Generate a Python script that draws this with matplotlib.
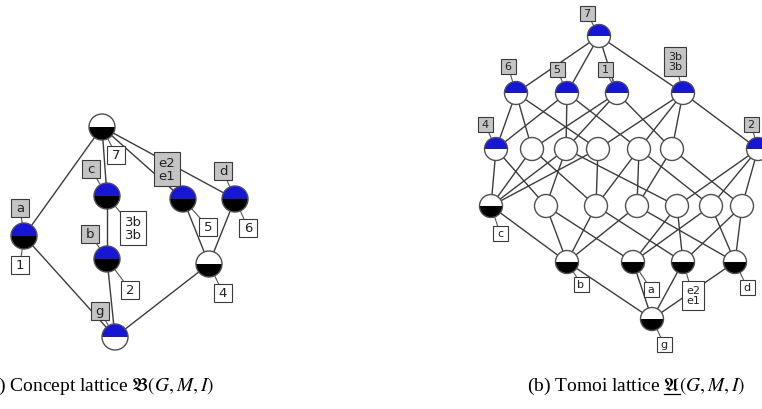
import matplotlib.pyplot as plt
from matplotlib.patches import Wedge, Circle, Rectangle

plt.rcParams['mathtext.fontset'] = 'stix'

BLUE = '#1616d4'
GREY = '#c4c4c4'

# ---- left: concept lattice ----
l_names = ['top', 'a', 'c', 'b', 'g', 'e', 'd', '4']
l_x = [102, 24, 107, 107, 115, 183, 235, 209]
l_y = [128, 237, 197, 260, 338, 200, 200, 265]
l_attr = [False, True, True, True, True, True, True, False]
l_obj = [True, True, True, True, False, True, True, True]
l_edges = [('top', 'a'), ('top', 'c'), ('top', 'e'), ('top', 'd'), ('a', 'g'),
           ('c', 'b'), ('b', 'g'), ('e', '4'), ('d', '4'), ('4', 'g')]
l_attr_lab = {'a': 'a', 'c': 'c', 'b': 'b', 'g': 'g', 'e': 'e2\ne1', 'd': 'd'}
l_obj_lab = {'top': '7', 'a': '1', 'c': '3b\n3b', 'b': '2', 'e': '5', 'd': '6', '4': '4'}
l_attr_off = {'a': (-4, -28), 'c': (-16, -27), 'b': (-17, -25), 'g': (-15, -26),
              'e': (-16, -30), 'd': (-12, -28)}
l_obj_off = {'top': (14, 28), 'a': (-4, 29), 'c': (26, 32), 'b': (23, 31),
             'e': (25, 28), 'd': (13, 29), '4': (14, 29)}

# ---- right: Tomoi lattice ----
r_names = ['7', '6', '5', '1', '3b',
           'L4', 'P1', 'P2', 'P3', 'P4', 'P5', 'L2',
           'c', 'Q1', 'Q2', 'Q3', 'Q4', 'Q5', 'Q6',
           'b', 'a', 'e', 'd', 'g']
r_x = [599, 516, 567, 617, 683,
       496, 532, 566, 598, 639, 672, 758,
       491, 546, 596, 637, 677, 711, 742,
       567, 633, 683, 735, 652]
r_y = [37, 94, 94, 94, 94,
       150, 150, 150, 150, 150, 150, 150,
       207, 207, 207, 207, 207, 207, 207,
       263, 263, 263, 263, 320]
r_attr = ['7', '6', '5', '1', '3b', 'L4', 'L2']
r_obj = ['c', 'b', 'a', 'e', 'd', 'g']
r_edges = [('7', '6'), ('7', '5'), ('7', '1'), ('7', '3b'),
           ('6', 'L4'), ('6', 'P1'), ('6', 'P3'),
           ('5', 'L4'), ('5', 'P2'), ('5', 'P4'),
           ('1', 'P1'), ('1', 'P2'), ('1', 'P5'),
           ('3b', 'P3'), ('3b', 'P4'), ('3b', 'P5'), ('3b', 'L2'),
           ('L4', 'c'), ('L4', 'Q1'), ('P1', 'c'), ('P1', 'Q2'),
           ('P2', 'c'), ('P2', 'Q1'), ('P2', 'Q4'), ('P3', 'c'), ('P3', 'Q2'),
           ('P4', 'Q2'), ('P4', 'Q3'), ('P4', 'Q5'), ('P5', 'Q3'), ('P5', 'Q6'),
           ('L2', 'Q4'), ('L2', 'Q5'), ('L2', 'Q6'),
           ('c', 'b'), ('Q1', 'b'), ('Q1', 'a'), ('Q2', 'b'), ('Q2', 'e'),
           ('Q3', 'b'), ('Q3', 'd'), ('Q4', 'a'), ('Q4', 'e'),
           ('Q5', 'a'), ('Q5', 'd'), ('Q6', 'e'), ('Q6', 'd'),
           ('b', 'g'), ('a', 'g'), ('e', 'g'), ('d', 'g')]
r_attr_lab = {'7': '7', '6': '6', '5': '5', '1': '1', '3b': '3b\n3b', 'L4': '4', 'L2': '2'}
r_obj_lab = {'c': 'c', 'b': 'b', 'a': 'a', 'e': 'e2\ne1', 'd': 'd', 'g': 'g'}
r_attr_off = {'7': (-12, -23), '6': (-8, -27), '5': (-10, -24), '1': (-12, -24),
              '3b': (-8, -32), 'L4': (-11, -25), 'L2': (-7, -25)}
r_obj_off = {'c': (9, 27), 'b': (14, 22), 'a': (18, 27), 'e': (10, 33), 'd': (12, 25), 'g': (12, 25)}

fig = plt.figure(figsize=(7.62, 4.10), dpi=100)
ax = fig.add_axes([0, 0, 1, 1])
ax.set_xlim(0, 762)
ax.set_ylim(410, 0)
ax.axis('off')


def node(x, y, r, top, bottom):
    # y axis is flipped, so 180..360 is the upper half on screen
    ax.add_patch(Wedge((x, y), r, 180, 360, fc=top, ec='none', zorder=3))
    ax.add_patch(Wedge((x, y), r, 0, 180, fc=bottom, ec='none', zorder=3))
    ax.add_patch(Circle((x, y), r, fc='none', ec='#505050', lw=1.0, zorder=4))


def label(x, y, nx, ny, txt, fc, fs, s):
    ax.plot([x, nx], [y, ny], color='#555555', lw=0.8, zorder=2)
    lines = txt.split('\n')
    n = max(len(t) for t in lines)
    w = (8 + 7 * n) * s
    h = (1 + 14 * len(lines)) * s
    ax.add_patch(Rectangle((x - w / 2, y - h / 2), w, h, fc=fc, ec='#3a3a3a', lw=0.8, zorder=5))
    ax.text(x, y, txt, ha='center', va='center', fontsize=fs, linespacing=1.0,
            color='#222222', zorder=6)


def lattice(names, xs, ys, is_attr, is_obj, edges, alab, aoff, olab, ooff, r, fs, s):
    pos = dict(zip(names, zip(xs, ys)))
    for u, v in edges:
        ax.plot([pos[u][0], pos[v][0]], [pos[u][1], pos[v][1]], color='#3c3c3c', lw=1.0, zorder=1)
    for nm in names:
        x, y = pos[nm]
        node(x, y, r, BLUE if is_attr(nm) else 'white', 'black' if is_obj(nm) else 'white')
    for nm, t in alab.items():
        x, y = pos[nm]
        label(x + aoff[nm][0], y + aoff[nm][1], x, y, t, GREY, fs, s)
    for nm, t in olab.items():
        x, y = pos[nm]
        label(x + ooff[nm][0], y + ooff[nm][1], x, y, t, 'white', fs, s)


la = dict(zip(l_names, l_attr))
lo = dict(zip(l_names, l_obj))
lattice(l_names, l_x, l_y, lambda n: la[n], lambda n: lo[n], l_edges,
        l_attr_lab, l_attr_off, l_obj_lab, l_obj_off, 13, 9.5, 1.15)
lattice(r_names, r_x, r_y, lambda n: n in r_attr, lambda n: n in r_obj, r_edges,
        r_attr_lab, r_attr_off, r_obj_lab, r_obj_off, 11.5, 8, 1.0)

cap_font = dict(fontsize=14, family='Liberation Serif', va='baseline', ha='left')
ax.text(-17, 391, r'(a) Concept lattice $\mathfrak{B}(G,M,I)$', **cap_font)
ax.text(527, 391, r'(b) Tomoi lattice $\mathfrak{A}(G,M,I)$', **cap_font)

# underline under the fraktur A: measure where it sits
fig.canvas.draw()
rend = fig.canvas.get_renderer()
pre = ax.text(527, 391, r'(b) Tomoi lattice $\mathfrak{A}$', **cap_font)
just_a = ax.text(527, 391, r'$\mathfrak{A}$', **cap_font)
x_end = pre.get_window_extent(rend).x1
w_a = just_a.get_window_extent(rend).width
pre.remove()
just_a.remove()
ax.plot([x_end - w_a, x_end], [394.5, 394.5], color='black', lw=0.9)

fig.savefig('out.png', dpi=100)
